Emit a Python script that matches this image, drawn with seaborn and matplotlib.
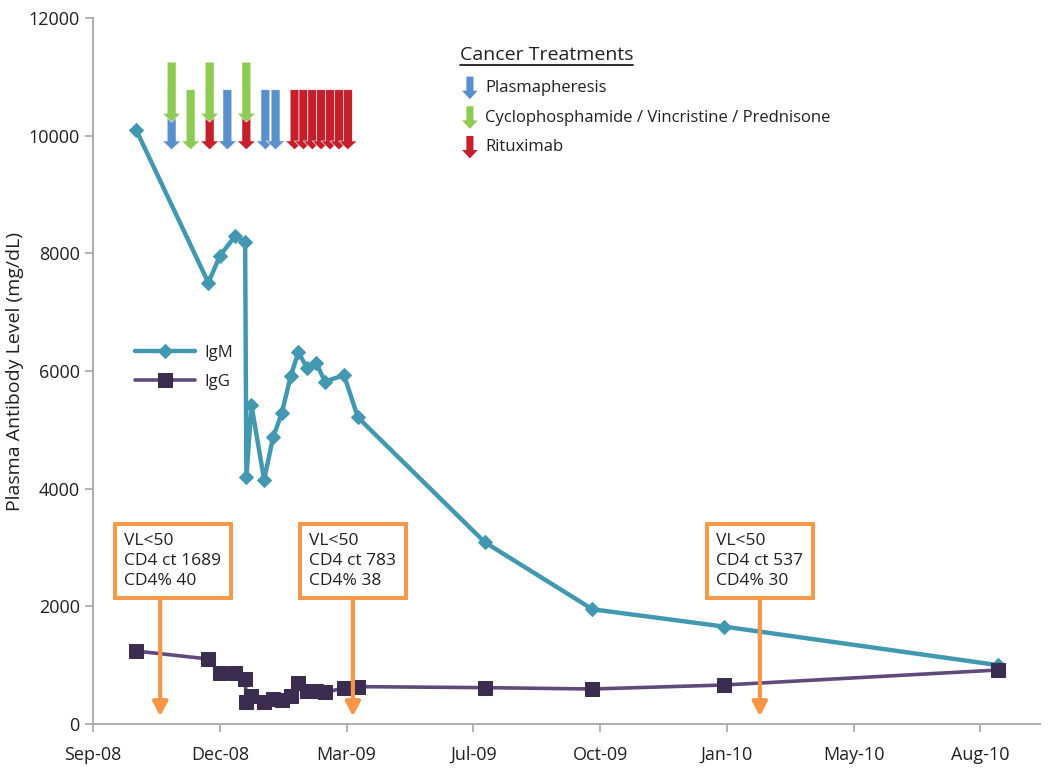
import matplotlib
matplotlib.use('Agg')
import matplotlib.pyplot as plt
import matplotlib.dates as mdates
from matplotlib.patches import FancyArrow
import pandas as pd
import seaborn as sns

# Antibody levels (mg/dL)
sample_dates = ['2008-10-14', '2008-12-10', '2008-12-19', '2008-12-31', '2009-01-08',
                '2009-01-09', '2009-01-13', '2009-01-23', '2009-01-30', '2009-02-06',
                '2009-02-13', '2009-02-19', '2009-02-26', '2009-03-05', '2009-03-12',
                '2009-03-27', '2009-04-07', '2009-07-16', '2009-10-09', '2010-01-21',
                '2010-08-25']
igm_values = [10100, 7500, 7955, 8290, 8190, 4190, 5420, 4150, 4870, 5290,
              5915, 6320, 6045, 6140, 5820, 5930, 5210, 3090, 1950, 1655, 1000]
igg_values = [1240, 1105, 860, 860, 765, 380, 475, 370, 425, 410,
              475, 705, 565, 565, 540, 610, 635, 618, 595, 663, 918]

# Cancer treatments
plasma_dates = ['2008-11-11', '2008-12-25', '2009-01-24', '2009-02-01']
cvp_dates = ['2008-11-11', '2008-11-26', '2008-12-11', '2009-01-09']
ritux_dates = ['2008-12-11', '2009-01-09', '2009-02-16', '2009-02-23', '2009-03-02',
               '2009-03-09', '2009-03-16', '2009-03-23', '2009-03-30']

# HIV status notes
note_dates = ['2008-11-02', '2009-04-03', '2010-02-18']
note_texts = ['VL<50\nCD4 ct 1689\nCD4% 40',
              'VL<50\nCD4 ct 783\nCD4% 38',
              'VL<50\nCD4 ct 537\nCD4% 30']
note_shift = [10, 0, 0]  # box offset (days) relative to arrow

x_ticks = pd.date_range('2008-09-10', periods=8, freq='100D')

sns.set_style('white')
plt.rcParams['font.family'] = ['Open Sans', 'DejaVu Sans']

c_igm = '#4198B0'
c_igg_line = '#604A7B'
c_igg_mark = '#3B2D50'
c_blue = '#5A8FCC'
c_green = '#8DCB55'
c_red = '#C41F2B'
c_orange = '#F79646'
c_text = '#231F20'
c_axis = '#A6A6A6'

fig = plt.figure(figsize=(10.5, 7.73), dpi=100)
ax = fig.add_axes([93 / 1050, 1 - 724 / 773, 947 / 1050, 706 / 773])

sns.lineplot(x=pd.to_datetime(sample_dates), y=igm_values, ax=ax, color=c_igm,
             lw=3.2, marker='D', markersize=7, markeredgecolor=c_igm,
             label='IgM', sort=False, estimator=None)
sns.lineplot(x=pd.to_datetime(sample_dates), y=igg_values, ax=ax, color=c_igg_line,
             lw=2.6, marker='s', markersize=9.5, markerfacecolor=c_igg_mark,
             markeredgecolor=c_igg_mark, label='IgG', sort=False, estimator=None)

# treatment arrows (data coords, x in days)
def down_arrow(x, top, tip, color):
    ax.add_patch(FancyArrow(x, top, 0, tip - top, width=7, head_width=14.5,
                            head_length=150, length_includes_head=True,
                            fc=color, ec='white', lw=0.4, zorder=4))

busy = set(plasma_dates) | set(ritux_dates)
for d in plasma_dates:
    down_arrow(mdates.date2num(pd.Timestamp(d)), 10780, 9760, c_blue)
for d in ritux_dates:
    down_arrow(mdates.date2num(pd.Timestamp(d)), 10780, 9760, c_red)
for d in cvp_dates:
    if d in busy:
        down_arrow(mdates.date2num(pd.Timestamp(d)), 11250, 10230, c_green)
    else:
        down_arrow(mdates.date2num(pd.Timestamp(d)), 10780, 9760, c_green)

# status boxes with arrows
for d, txt, sh in zip(note_dates, note_texts, note_shift):
    xd = mdates.date2num(pd.Timestamp(d))
    ax.annotate('', xy=(xd, 130), xytext=(xd, 2095),
                arrowprops=dict(arrowstyle='-|>,head_length=0.42,head_width=0.22',
                                color=c_orange, lw=3, mutation_scale=20,
                                shrinkA=0, shrinkB=0), zorder=3)
    ax.text(xd + sh, 2770, txt, ha='center', va='center', fontsize=12.5,
            color=c_text, linespacing=1.3, multialignment='left', zorder=5,
            bbox=dict(boxstyle='square,pad=0.55', fc='white', ec=c_orange, lw=2.8))

# treatment legend
tr = ax.transAxes
ax.text(0.3875, 0.9476, 'Cancer Treatments', transform=tr, fontsize=14,
        color=c_text, va='center', ha='left')
legend_items = [('Plasmapheresis', c_blue),
                ('Cyclophosphamide / Vincristine / Prednisone', c_green),
                ('Rituximab', c_red)]
for i, (name, col) in enumerate(legend_items):
    yc = 0.901 - i * 0.042
    ax.add_patch(FancyArrow(0.398, yc + 0.016, 0, -0.032, width=0.0075,
                            head_width=0.0165, head_length=0.012,
                            length_includes_head=True, fc=col, ec='none',
                            transform=tr, clip_on=False))
    ax.text(0.414, yc, name, transform=tr, fontsize=12, color=c_text,
            va='center', ha='left')

# underline for the title
fig.canvas.draw()
title = [t for t in ax.texts if t.get_text() == 'Cancer Treatments'][0]
bb = title.get_window_extent().transformed(tr.inverted())
ax.plot([bb.x0, bb.x1], [bb.y0 - 0.002, bb.y0 - 0.002], transform=tr,
        color=c_text, lw=1.3, clip_on=False)

ax.legend(loc='center left', bbox_to_anchor=(0.028, 0.505), frameon=False,
          fontsize=12, handlelength=3.6, labelspacing=0.75, handletextpad=0.6,
          labelcolor=c_text)

ax.set_xlim(pd.Timestamp('2008-09-10'), pd.Timestamp('2010-09-27'))
ax.set_ylim(0, 12000)
ax.set_xticks(x_ticks)
ax.xaxis.set_major_formatter(mdates.DateFormatter('%b-%y'))
ax.set_yticks(range(0, 12001, 2000))
ax.set_ylabel('Plasma Antibody Level (mg/dL)', fontsize=14, color=c_text, labelpad=3)
ax.set_xlabel('')

sns.despine(ax=ax)
for s in ['left', 'bottom']:
    ax.spines[s].set_color(c_axis)
    ax.spines[s].set_linewidth(1.3)
ax.tick_params(axis='both', colors=c_axis, labelcolor=c_text, labelsize=13,
               length=6, width=1.2, direction='out', left=True, bottom=True)
ax.tick_params(axis='x', pad=10)

fig.savefig('out.png', dpi=100)
